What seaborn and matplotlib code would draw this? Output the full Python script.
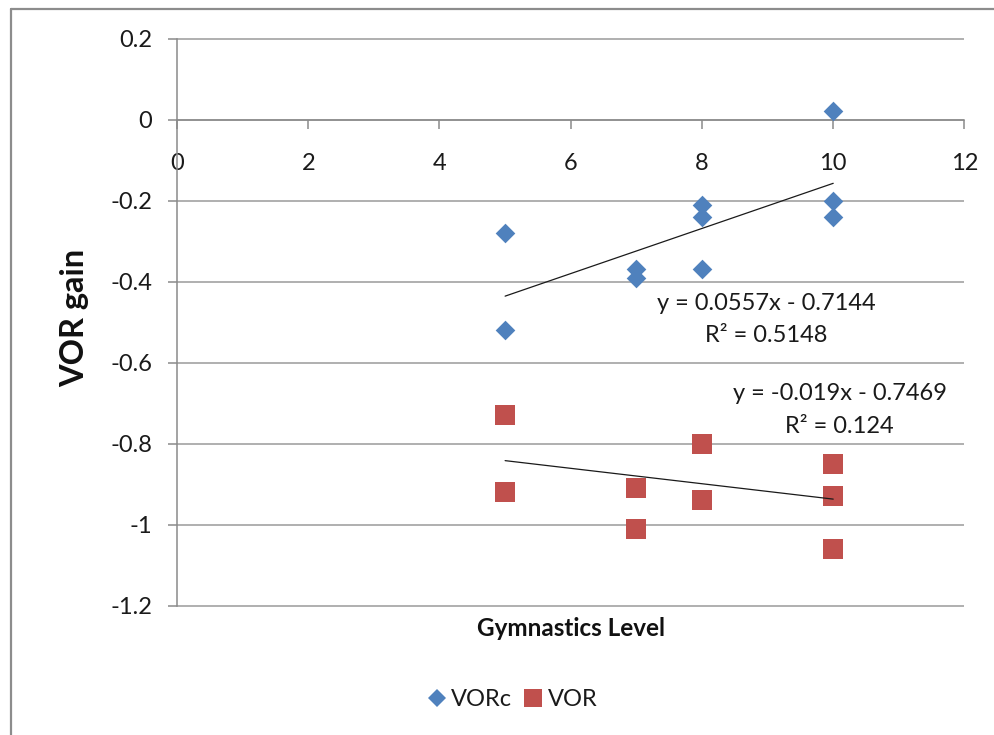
import numpy as np
import pandas as pd
import matplotlib
matplotlib.use("Agg")
import matplotlib.pyplot as plt
from matplotlib.lines import Line2D
import seaborn as sns

# Gymnastics level vs. VOR gain, two measures
vorc_level = [5, 5, 7, 7, 8, 8, 8, 10, 10, 10]
vorc_gain = [-0.28, -0.52, -0.37, -0.39, -0.21, -0.24, -0.37, 0.02, -0.20, -0.24]
vor_level = [5, 5, 7, 7, 8, 8, 10, 10, 10]
vor_gain = [-0.73, -0.92, -0.91, -1.01, -0.80, -0.94, -0.85, -0.93, -1.06]

# linear trend: slope, intercept, R²
vorc_slope, vorc_intercept, vorc_r2 = 0.0557, -0.7144, 0.5148
vor_slope, vor_intercept, vor_r2 = -0.019, -0.7469, 0.124

x_ticks = [0, 2, 4, 6, 8, 10, 12]
y_ticks = [0.2, 0, -0.2, -0.4, -0.6, -0.8, -1, -1.2]
y_tick_labels = ["0.2", "0", "-0.2", "-0.4", "-0.6", "-0.8", "-1", "-1.2"]

BLUE = "#4F81BD"
RED = "#C0504D"
GRID = "#9a9a9a"
TEXT = "#1a1a1a"

sns.set_theme(style="white")
plt.rcParams["font.family"] = ["Lato", "DejaVu Sans"]

vorc_df = pd.DataFrame({"level": vorc_level, "gain": vorc_gain})
vor_df = pd.DataFrame({"level": vor_level, "gain": vor_gain})

fig = plt.figure(figsize=(9.95, 7.35), dpi=100)
ax = fig.add_axes([0.1779, 0.1759, 0.7914, 0.7717])

ax.set_xlim(0, 12)
ax.set_ylim(-1.2, 0.2)

# horizontal gridlines
ax.hlines(y_ticks, 0, 12, colors=GRID, linewidth=1.1, zorder=0, clip_on=False)

sns.scatterplot(data=vorc_df, x="level", y="gain", marker="D", s=100,
                color=BLUE, linewidth=0, ax=ax, label="VORc", zorder=3, clip_on=False)
sns.scatterplot(data=vor_df, x="level", y="gain", marker="s", s=205,
                color=RED, linewidth=0, ax=ax, label="VOR", zorder=3, clip_on=False)

# trend lines
for lv, sl, ic in [(vorc_level, vorc_slope, vorc_intercept),
                   (vor_level, vor_slope, vor_intercept)]:
    xs = np.array([min(lv), max(lv)], dtype=float)
    ax.plot(xs, sl * xs + ic, color="#1a1a1a", linewidth=0.9, zorder=4)

eq_kw = dict(ha="center", va="center", fontsize=17, color=TEXT)
ax.text(8.975, -0.455, f"y = {vorc_slope}x - {abs(vorc_intercept)}", **eq_kw)
ax.text(8.985, -0.534, f"R² = {vorc_r2}", **eq_kw)
ax.text(10.10, -0.677, f"y = {vor_slope}x - {abs(vor_intercept)}", **eq_kw)
ax.text(10.09, -0.757, f"R² = {vor_r2}", **eq_kw)

# axes: x-axis crosses at y = 0
for s in ["top", "right"]:
    ax.spines[s].set_visible(False)
ax.spines["bottom"].set_position(("data", 0))
for s in ["left", "bottom"]:
    ax.spines[s].set_color("#8a8a8a")
    ax.spines[s].set_linewidth(1.1)

ax.set_xticks(x_ticks)
ax.set_xticklabels([str(t) for t in x_ticks])
ax.set_yticks(y_ticks)
ax.set_yticklabels(y_tick_labels)
ax.tick_params(axis="both", direction="out", length=6.5, width=1.1,
               color="#8a8a8a", labelsize=17, labelcolor=TEXT)
ax.tick_params(axis="x", pad=17.5, bottom=True)
ax.tick_params(axis="y", pad=11.5, left=True)
ax.set_xlabel("")
ax.set_ylabel("")

fig.text(75 / 995, 1 - 318 / 735, "VOR gain", rotation=90, ha="center", va="center",
         fontsize=23.5, fontweight="bold", color="#111111")
fig.text(571 / 995, 1 - 628 / 735, "Gymnastics Level", ha="center", va="center",
         fontsize=17.5, fontweight="bold", color="#111111")

handles, labels = ax.get_legend_handles_labels()
if ax.get_legend() is not None:
    ax.get_legend().remove()
leg_handles = [
    Line2D([], [], marker="D", linestyle="", color=BLUE, markersize=9, markeredgewidth=0),
    Line2D([], [], marker="s", linestyle="", color=RED, markersize=12.5, markeredgewidth=0),
]
fig.legend(leg_handles, labels, loc="center", bbox_to_anchor=(513 / 995, 1 - 700 / 735),
           ncol=2, frameon=False, fontsize=17, handlelength=0.7, handletextpad=0.25,
           columnspacing=0.55, labelcolor=TEXT)

# chart-area frame
frame_kw = dict(color="#8c8c8c", linewidth=1.6, transform=fig.transFigure)
fig.add_artist(Line2D([11.5 / 995, 11.5 / 995], [0, 1 - 8.5 / 735], **frame_kw))
fig.add_artist(Line2D([11.5 / 995, 1], [1 - 8.5 / 735, 1 - 8.5 / 735], **frame_kw))

fig.savefig("out.png", dpi=100)
